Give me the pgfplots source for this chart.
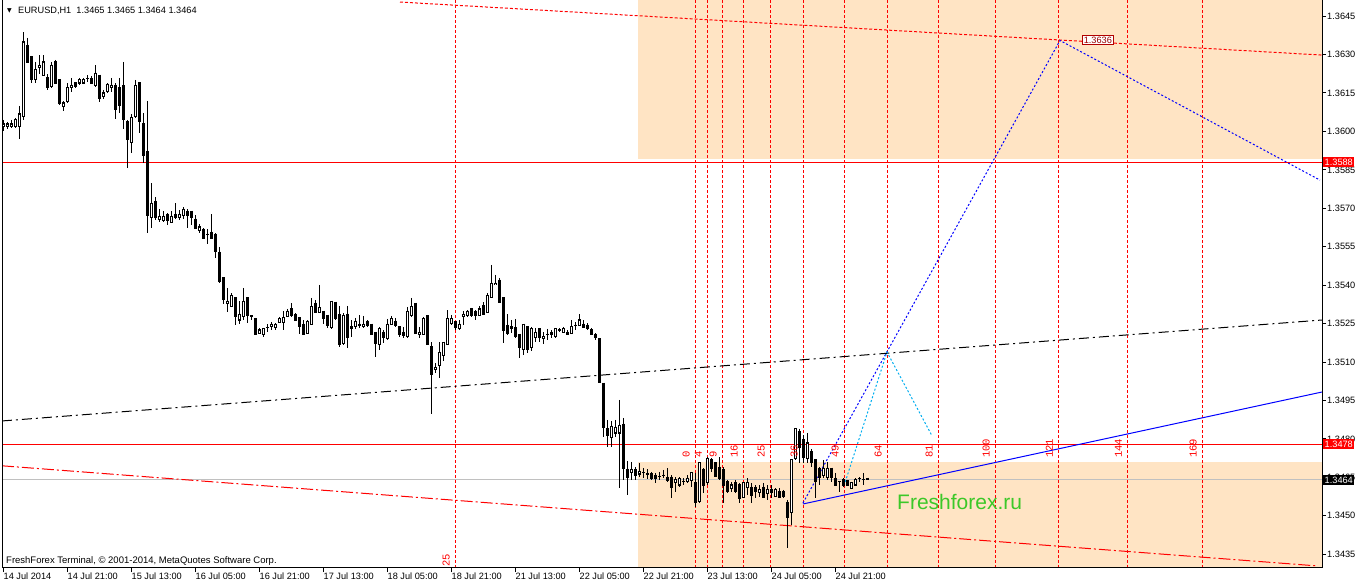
\documentclass[border=0pt]{standalone}
\usepackage{fontspec}
\setmainfont{Liberation Sans}
\newfontfamily\dejavu{DejaVu Sans}
\newfontfamily\mono{Liberation Mono}
\usepackage{pgfplots}
\usepackage{pgfplotstable}
\pgfplotsset{compat=1.18}
\definecolor{bisque}{RGB}{255,228,196}
\definecolor{ffgreen}{RGB}{60,200,40}
\definecolor{silverline}{RGB}{192,192,192}

\pgfplotstableread{
i o h l c
0 1.36018 1.36045 1.36002 1.36029
1 1.36018 1.36037 1.36010 1.36029
2 1.36018 1.36045 1.36014 1.36029
3 1.36018 1.36053 1.36014 1.36045
4 1.36018 1.36100 1.35971 1.36068
5 1.36057 1.36388 1.36045 1.36349
6 1.36337 1.36365 1.36267 1.36271
7 1.36291 1.36295 1.36189 1.36201
8 1.36201 1.36271 1.36189 1.36240
9 1.36248 1.36298 1.36224 1.36259
10 1.36217 1.36298 1.36217 1.36271
11 1.36209 1.36224 1.36162 1.36170
12 1.36174 1.36271 1.36170 1.36259
13 1.36271 1.36279 1.36185 1.36189
14 1.36201 1.36201 1.36103 1.36111
15 1.36096 1.36119 1.36080 1.36111
16 1.36115 1.36189 1.36111 1.36170
17 1.36170 1.36209 1.36154 1.36181
18 1.36189 1.36193 1.36170 1.36174
19 1.36189 1.36209 1.36181 1.36201
20 1.36189 1.36209 1.36185 1.36201
21 1.36205 1.36220 1.36193 1.36205
22 1.36205 1.36217 1.36185 1.36189
23 1.36178 1.36259 1.36174 1.36228
24 1.36220 1.36220 1.36115 1.36127
25 1.36135 1.36162 1.36127 1.36150
26 1.36154 1.36189 1.36150 1.36185
27 1.36170 1.36209 1.36154 1.36181
28 1.36178 1.36189 1.36049 1.36084
29 1.36170 1.36209 1.36072 1.36100
30 1.36178 1.36271 1.36010 1.36045
31 1.36037 1.36045 1.35858 1.35967
32 1.35955 1.36068 1.35916 1.36053
33 1.36057 1.36201 1.36053 1.36178
34 1.36189 1.36189 1.35994 1.36037
35 1.36029 1.36072 1.35877 1.35905
36 1.35920 1.36119 1.35603 1.35673
37 1.35665 1.35798 1.35623 1.35720
38 1.35728 1.35744 1.35654 1.35665
39 1.35658 1.35697 1.35646 1.35669
40 1.35654 1.35689 1.35646 1.35669
41 1.35677 1.35681 1.35634 1.35654
42 1.35646 1.35689 1.35646 1.35669
43 1.35677 1.35720 1.35658 1.35665
44 1.35665 1.35693 1.35654 1.35677
45 1.35673 1.35705 1.35658 1.35697
46 1.35689 1.35697 1.35623 1.35673
47 1.35689 1.35689 1.35634 1.35665
48 1.35658 1.35673 1.35623 1.35623
49 1.35615 1.35638 1.35603 1.35627
50 1.35619 1.35623 1.35584 1.35584
51 1.35599 1.35619 1.35560 1.35599
52 1.35607 1.35677 1.35584 1.35584
53 1.35599 1.35603 1.35506 1.35533
54 1.35529 1.35549 1.35408 1.35416
55 1.35428 1.35428 1.35326 1.35346
56 1.35330 1.35389 1.35295 1.35338
57 1.35315 1.35369 1.35315 1.35358
58 1.35350 1.35350 1.35244 1.35276
59 1.35264 1.35338 1.35248 1.35287
60 1.35276 1.35389 1.35264 1.35338
61 1.35350 1.35350 1.35252 1.35283
62 1.35280 1.35283 1.35264 1.35276
63 1.35268 1.35272 1.35209 1.35209
64 1.35213 1.35233 1.35209 1.35225
65 1.35209 1.35233 1.35198 1.35229
66 1.35233 1.35248 1.35217 1.35233
67 1.35237 1.35256 1.35225 1.35248
68 1.35233 1.35252 1.35225 1.35248
69 1.35256 1.35276 1.35252 1.35268
70 1.35256 1.35299 1.35225 1.35272
71 1.35276 1.35307 1.35276 1.35299
72 1.35307 1.35330 1.35276 1.35280
73 1.35287 1.35291 1.35260 1.35264
74 1.35272 1.35276 1.35209 1.35237
75 1.35248 1.35264 1.35209 1.35209
76 1.35213 1.35264 1.35209 1.35260
77 1.35248 1.35350 1.35248 1.35315
78 1.35330 1.35342 1.35295 1.35295
79 1.35295 1.35401 1.35291 1.35311
80 1.35299 1.35299 1.35248 1.35268
81 1.35283 1.35283 1.35233 1.35244
82 1.35233 1.35338 1.35229 1.35338
83 1.35334 1.35334 1.35264 1.35268
84 1.35287 1.35319 1.35159 1.35167
85 1.35174 1.35291 1.35167 1.35280
86 1.35287 1.35319 1.35155 1.35194
87 1.35237 1.35264 1.35198 1.35229
88 1.35237 1.35272 1.35229 1.35260
89 1.35248 1.35283 1.35233 1.35244
90 1.35237 1.35280 1.35233 1.35248
91 1.35260 1.35264 1.35237 1.35244
92 1.35248 1.35248 1.35209 1.35209
93 1.35217 1.35217 1.35120 1.35174
94 1.35170 1.35237 1.35147 1.35229
95 1.35217 1.35225 1.35174 1.35194
96 1.35190 1.35268 1.35186 1.35248
97 1.35248 1.35280 1.35244 1.35268
98 1.35260 1.35272 1.35237 1.35244
99 1.35237 1.35237 1.35198 1.35209
100 1.35217 1.35237 1.35194 1.35205
101 1.35198 1.35315 1.35194 1.35299
102 1.35283 1.35350 1.35276 1.35315
103 1.35330 1.35330 1.35209 1.35213
104 1.35209 1.35237 1.35194 1.35217
105 1.35209 1.35276 1.35205 1.35268
106 1.35280 1.35280 1.35167 1.35167
107 1.35159 1.35178 1.34897 1.35053
108 1.35069 1.35096 1.35057 1.35077
109 1.35085 1.35178 1.35038 1.35139
110 1.35124 1.35178 1.35104 1.35178
111 1.35167 1.35303 1.35167 1.35268
112 1.35252 1.35283 1.35244 1.35268
113 1.35260 1.35260 1.35225 1.35233
114 1.35229 1.35264 1.35225 1.35248
115 1.35276 1.35299 1.35244 1.35287
116 1.35280 1.35303 1.35276 1.35299
117 1.35307 1.35311 1.35276 1.35283
118 1.35299 1.35303 1.35264 1.35280
119 1.35280 1.35319 1.35280 1.35307
120 1.35319 1.35334 1.35287 1.35287
121 1.35295 1.35369 1.35295 1.35358
122 1.35350 1.35479 1.35350 1.35408
123 1.35401 1.35440 1.35401 1.35408
124 1.35420 1.35428 1.35334 1.35334
125 1.35350 1.35350 1.35174 1.35225
126 1.35244 1.35287 1.35205 1.35213
127 1.35237 1.35264 1.35213 1.35229
128 1.35233 1.35268 1.35194 1.35198
129 1.35209 1.35209 1.35116 1.35155
130 1.35147 1.35248 1.35128 1.35248
131 1.35237 1.35237 1.35135 1.35147
132 1.35155 1.35237 1.35143 1.35229
133 1.35194 1.35233 1.35178 1.35217
134 1.35229 1.35229 1.35178 1.35194
135 1.35190 1.35217 1.35170 1.35198
136 1.35209 1.35229 1.35186 1.35209
137 1.35217 1.35225 1.35194 1.35209
138 1.35198 1.35229 1.35194 1.35229
139 1.35225 1.35233 1.35217 1.35225
140 1.35217 1.35237 1.35213 1.35229
141 1.35217 1.35225 1.35205 1.35209
142 1.35213 1.35264 1.35209 1.35237
143 1.35244 1.35256 1.35225 1.35244
144 1.35244 1.35287 1.35244 1.35264
145 1.35248 1.35264 1.35233 1.35233
146 1.35244 1.35252 1.35225 1.35229
147 1.35225 1.35233 1.35209 1.35209
148 1.35209 1.35213 1.35186 1.35194
149 1.35190 1.35194 1.35018 1.35022
150 1.35018 1.35018 1.34807 1.34846
151 1.34839 1.34874 1.34768 1.34815
152 1.34807 1.34870 1.34768 1.34850
153 1.34823 1.34874 1.34807 1.34846
154 1.34823 1.34952 1.34608 1.34854
155 1.34858 1.34882 1.34640 1.34686
156 1.34682 1.34714 1.34581 1.34651
157 1.34667 1.34710 1.34640 1.34679
158 1.34679 1.34690 1.34640 1.34659
159 1.34663 1.34706 1.34651 1.34671
160 1.34667 1.34686 1.34647 1.34667
161 1.34663 1.34682 1.34644 1.34663
162 1.34663 1.34671 1.34640 1.34647
163 1.34659 1.34667 1.34628 1.34647
164 1.34655 1.34671 1.34640 1.34655
165 1.34659 1.34679 1.34647 1.34659
166 1.34651 1.34686 1.34632 1.34636
167 1.34651 1.34659 1.34569 1.34612
168 1.34628 1.34651 1.34593 1.34640
169 1.34620 1.34651 1.34612 1.34644
170 1.34632 1.34647 1.34620 1.34632
171 1.34632 1.34659 1.34628 1.34647
172 1.34636 1.34671 1.34612 1.34667
173 1.34628 1.34667 1.34534 1.34550
174 1.34554 1.34710 1.34550 1.34706
175 1.34682 1.34686 1.34589 1.34620
176 1.34628 1.34729 1.34620 1.34725
177 1.34718 1.34725 1.34671 1.34686
178 1.34706 1.34710 1.34651 1.34655
179 1.34690 1.34729 1.34640 1.34647
180 1.34679 1.34690 1.34550 1.34620
181 1.34632 1.34640 1.34589 1.34593
182 1.34608 1.34632 1.34593 1.34620
183 1.34628 1.34640 1.34589 1.34593
184 1.34620 1.34628 1.34550 1.34569
185 1.34573 1.34632 1.34569 1.34628
186 1.34612 1.34647 1.34581 1.34628
187 1.34612 1.34628 1.34550 1.34581
188 1.34612 1.34620 1.34569 1.34593
189 1.34589 1.34620 1.34573 1.34601
190 1.34612 1.34628 1.34569 1.34573
191 1.34585 1.34620 1.34562 1.34604
192 1.34601 1.34620 1.34569 1.34589
193 1.34577 1.34608 1.34573 1.34601
194 1.34593 1.34608 1.34569 1.34573
195 1.34593 1.34601 1.34569 1.34577
196 1.34550 1.34562 1.34374 1.34495
197 1.34511 1.34718 1.34464 1.34718
198 1.34725 1.34839 1.34718 1.34839
199 1.34827 1.34839 1.34706 1.34768
200 1.34796 1.34815 1.34706 1.34729
201 1.34725 1.34823 1.34706 1.34784
202 1.34749 1.34761 1.34690 1.34706
203 1.34718 1.34718 1.34569 1.34632
204 1.34686 1.34690 1.34620 1.34651
205 1.34659 1.34718 1.34647 1.34686
206 1.34651 1.34710 1.34640 1.34686
207 1.34686 1.34686 1.34632 1.34651
208 1.34647 1.34667 1.34620 1.34620
209 1.34632 1.34632 1.34593 1.34632
210 1.34640 1.34647 1.34612 1.34620
211 1.34636 1.34640 1.34616 1.34620
212 1.34608 1.34632 1.34608 1.34628
213 1.34620 1.34647 1.34616 1.34640
214 1.34644 1.34651 1.34632 1.34644
215 1.34640 1.34667 1.34620 1.34640
216 1.34647 1.34647 1.34640 1.34640
}\candles

\begin{document}
\begin{tikzpicture}
\useasboundingbox (-2pt,-18pt) rectangle (1360pt,568pt);
\begin{axis}[
  name=ax, at={(0pt,0pt)}, anchor=south west,
  scale only axis, width=1320pt, height=568pt,
  xmin=2, xmax=1322, ymin=1.342961, ymax=1.36513,
  axis line style={draw=none},
  tick align=outside, major tick length=4pt,
  tick style={black, line width=1pt},
  xtick pos=bottom, ytick pos=right, yticklabel pos=right,
  xtick={3.5,67.5,131.5,195.5,259.5,323.5,387.5,451.5,515.5,579.5,643.5,707.5,771.5,835.5},
  xticklabels={14 Jul 2014,14 Jul 21:00,15 Jul 13:00,16 Jul 05:00,16 Jul 21:00,17 Jul 13:00,18 Jul 05:00,18 Jul 21:00,21 Jul 13:00,22 Jul 05:00,22 Jul 21:00,23 Jul 13:00,24 Jul 05:00,24 Jul 21:00},
  xticklabel style={anchor=north west, inner sep=0pt, xshift=0pt, yshift=-1pt, font=\fontsize{9.2pt}{10pt}\selectfont},
  ytick={1.3435,1.345,1.3465,1.348,1.3495,1.351,1.3525,1.354,1.3555,1.357,1.3585,1.36,1.3615,1.363,1.3645},
  scaled y ticks=false,
  yticklabel style={anchor=west, inner sep=0pt, xshift=1pt, font=\fontsize{9.2pt}{10pt}\selectfont,
    /pgf/number format/.cd, fixed, fixed zerofill, precision=4, assume math mode=true},
  clip=true,
]
% peach zones
\addplot[fill=bisque, draw=none, forget plot] coordinates {(638,1.35892) (1322,1.35892) (1322,1.36513) (638,1.36513)} -- cycle;
\addplot[fill=bisque, draw=none, forget plot] coordinates {(638,1.342961) (1322,1.342961) (1322,1.34710) (638,1.34710)} -- cycle;
% horizontal levels
\addplot[red, line width=1pt, forget plot] coordinates {(2,1.3588) (1322,1.3588)};
\addplot[silverline, line width=1pt, forget plot] coordinates {(2,1.3464) (1322,1.3464)};
\addplot[red, line width=1pt, forget plot] coordinates {(2,1.3478) (1322,1.3478)};
% vertical time lines
\pgfplotsinvokeforeach{455,695,707,722,743,770,803,844,887,938,995,1058,1127,1202}{
  \addplot[red, line width=1pt, dash pattern=on 3pt off 2pt, forget plot] coordinates {(#1,1.3420) (#1,1.3660)};
}
% trend lines
\addplot[red, line width=1pt, dash pattern=on 3pt off 2pt, forget plot] coordinates {(400,1.36505) (1322,1.36298)};
\addplot[black, line width=1pt, dash pattern=on 10pt off 4pt on 2pt off 4pt, forget plot] coordinates {(2,1.34870) (1322,1.35264)};
\addplot[red, line width=1pt, dash pattern=on 12pt off 3pt on 2pt off 3pt, forget plot] coordinates {(2,1.34695) (1318,1.34304)};
\addplot[blue, line width=1pt, forget plot] coordinates {(803,1.34546) (1322,1.34983)};
\addplot[blue, line width=1pt, dash pattern=on 2pt off 2pt, forget plot] coordinates {(803,1.34550) (1060,1.36355) (1320,1.35810)};
\addplot[cyan, line width=1pt, dash pattern=on 2pt off 2pt, forget plot] coordinates {(844,1.34617) (887,1.35139) (932,1.34812)};
% candles: wicks
\addplot[draw=none, mark=none, forget plot,
  error bars/.cd, y dir=both, y explicit, error mark=none,
  error bar style={draw=black, line width=1pt, solid}]
  table[x expr=3.5+4*\thisrow{i}, y=h, y error plus expr=0, y error minus expr=\thisrow{h}-\thisrow{l}] {\candles};
% candles: bodies
\addplot[draw=none, mark=none, forget plot,
  error bars/.cd, y dir=both, y explicit, error mark=none,
  error bar style={draw=black, line width=3pt, solid}]
  table[x expr=3.5+4*\thisrow{i}, y expr={max(\thisrow{o},\thisrow{c})+0.00002}, y error plus expr=0, y error minus expr={abs(\thisrow{o}-\thisrow{c})+0.00004}] {\candles};
% candles: hollow interior of rising bars
\addplot[draw=none, mark=none, forget plot,
  error bars/.cd, y dir=both, y explicit, error mark=none,
  error bar style={draw=white, line width=1pt, solid}]
  table[x expr=3.5+4*\thisrow{i}, y expr={\thisrow{c}-0.00002}, y error plus expr=0, y error minus expr={max(\thisrow{c}-\thisrow{o}-0.00004,0)}] {\candles};
\coordinate (p1) at (axis cs:1322,1.3588);
\coordinate (p2) at (axis cs:1322,1.3478);
\coordinate (p3) at (axis cs:1322,1.3464);
\end{axis}
% frame
\draw[black, line width=1pt] (ax.north west) -- (ax.south west) -- (ax.south east) -- (ax.north east);
% price boxes on the scale
\node[fill=red, text=white, inner xsep=1.5pt, inner ysep=1.5pt, anchor=west, font=\fontsize{9.2pt}{10pt}\selectfont] at ([xshift=1pt]p1) {1.3588};
\node[fill=red, text=white, inner xsep=1.5pt, inner ysep=1.5pt, anchor=west, font=\fontsize{9.2pt}{10pt}\selectfont] at ([xshift=1pt]p2) {1.3478};
\node[fill=black, text=white, inner xsep=1.5pt, inner ysep=1.5pt, anchor=west, font=\fontsize{9.2pt}{10pt}\selectfont] at ([xshift=1pt]p3) {1.3464};
% peak label
\node[draw=red!70!black, fill=white, text=red!60!black, line width=0.6pt, inner xsep=1.5pt, inner ysep=1.2pt, anchor=west, font=\fontsize{9.2pt}{10pt}\selectfont] at (1080pt,528pt) {1.3636};
% time-zone labels
\foreach \xx/\lab in {695/0,707/4,722/9,743/16,770/25,803/36,844/49,887/64,938/81,995/100,1058/121,1127/144,1202/169}
  \node[rotate=90, anchor=south west, inner sep=0pt, text=red, font=\mono\fontsize{10.5pt}{11pt}\selectfont] at ({\xx*1pt-7pt},110pt) {\lab};
\node[rotate=90, anchor=south west, inner sep=0pt, text=red, font=\mono\fontsize{10.5pt}{11pt}\selectfont] at (448pt,1pt) {25};
% texts
\node[anchor=west, inner sep=0pt, font=\dejavu\fontsize{6pt}{7pt}\selectfont] at (5pt,557pt) {▼};
\node[anchor=west, inner sep=0pt, font=\fontsize{9.2pt}{10pt}\selectfont] at (16pt,557pt) {EURUSD,H1\ \ 1.3465 1.3465 1.3464 1.3464};
\node[anchor=west, inner sep=0pt, font=\fontsize{9.5pt}{10pt}\selectfont] at (4pt,7pt) {FreshForex Terminal, © 2001-2014, MetaQuotes Software Corp.};
\node[anchor=west, inner sep=0pt, text=ffgreen, font=\fontsize{21pt}{23pt}\selectfont] at (895pt,66pt) {Freshforex.ru};
\end{tikzpicture}
\end{document}
